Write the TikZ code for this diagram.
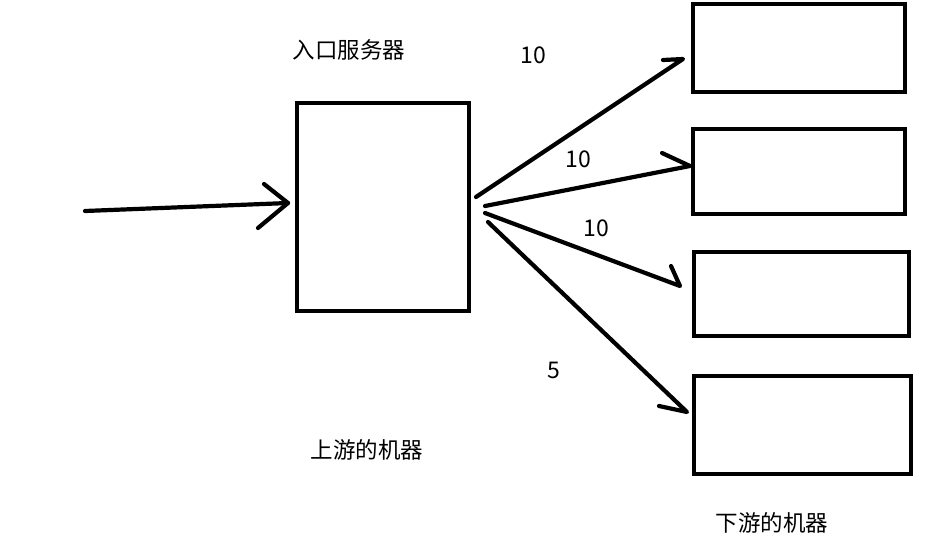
\documentclass[tikz,border=0pt]{standalone}
\usepackage{fontspec}
\setmainfont{Noto Sans CJK SC}
\begin{document}
\begin{tikzpicture}[x=1pt,y=-1pt,
  ln/.style={line width=4.2pt,line cap=round,line join=round},
  box/.style={draw,line width=4.2pt,rectangle,inner sep=0pt,outer sep=0pt},
  lbl/.style={font=\fontsize{23}{27}\selectfont,inner sep=0pt},
  clbl/.style={font=\fontsize{22.5}{27}\selectfont,inner sep=0pt}]
\useasboundingbox[fill=white] (0,0) rectangle (949,552);
% boxes
\node[box,minimum width=172pt,minimum height=208pt] (entry) at (383,207) {};
\node[box,minimum width=212pt,minimum height=88pt] (d1) at (799,48) {};
\node[box,minimum width=212pt,minimum height=85pt] (d2) at (799,171.5) {};
\node[box,minimum width=215pt,minimum height=84pt] (d3) at (801.5,294) {};
\node[box,minimum width=217pt,minimum height=98pt] (d4) at (802.5,425) {};
% coordinates
\coordinate (in0) at (85,211);
\coordinate (inT) at (288,203);
\coordinate (inB1) at (264,184);
\coordinate (inB2) at (258,228);
\coordinate (s1) at (476,197); \coordinate (t1) at (683,59); \coordinate (b1) at (663,60);
\coordinate (s2) at (485,206); \coordinate (t2) at (690,166); \coordinate (b2) at (662,153);
\coordinate (s3) at (485,213); \coordinate (t3) at (680,286); \coordinate (b3) at (671,266);
\coordinate (s4) at (488,222); \coordinate (t4) at (687,412); \coordinate (b4) at (659,406);
% arrows
\draw[ln] (in0) -- (inT);
\draw[ln] (inB1) -- (inT) -- (inB2);
\draw[ln] (s1) -- (t1) -- (b1);
\draw[ln] (s2) -- (t2) -- (b2);
\draw[ln] (s3) -- (t3) -- (b3);
\draw[ln] (s4) -- (t4) -- (b4);
% labels
\node[clbl] (lentry) at (349,50) {入口服务器};
\node[lbl] (w1) at (533,55) {10};
\node[lbl] (w2) at (578,159) {10};
\node[lbl] (w3) at (596,228) {10};
\node[lbl] (w4) at (554,370) {5};
\node[clbl] (lup) at (367,450) {上游的机器};
\node[clbl] (ldown) at (772,523) {下游的机器};
\end{tikzpicture}
\end{document}
